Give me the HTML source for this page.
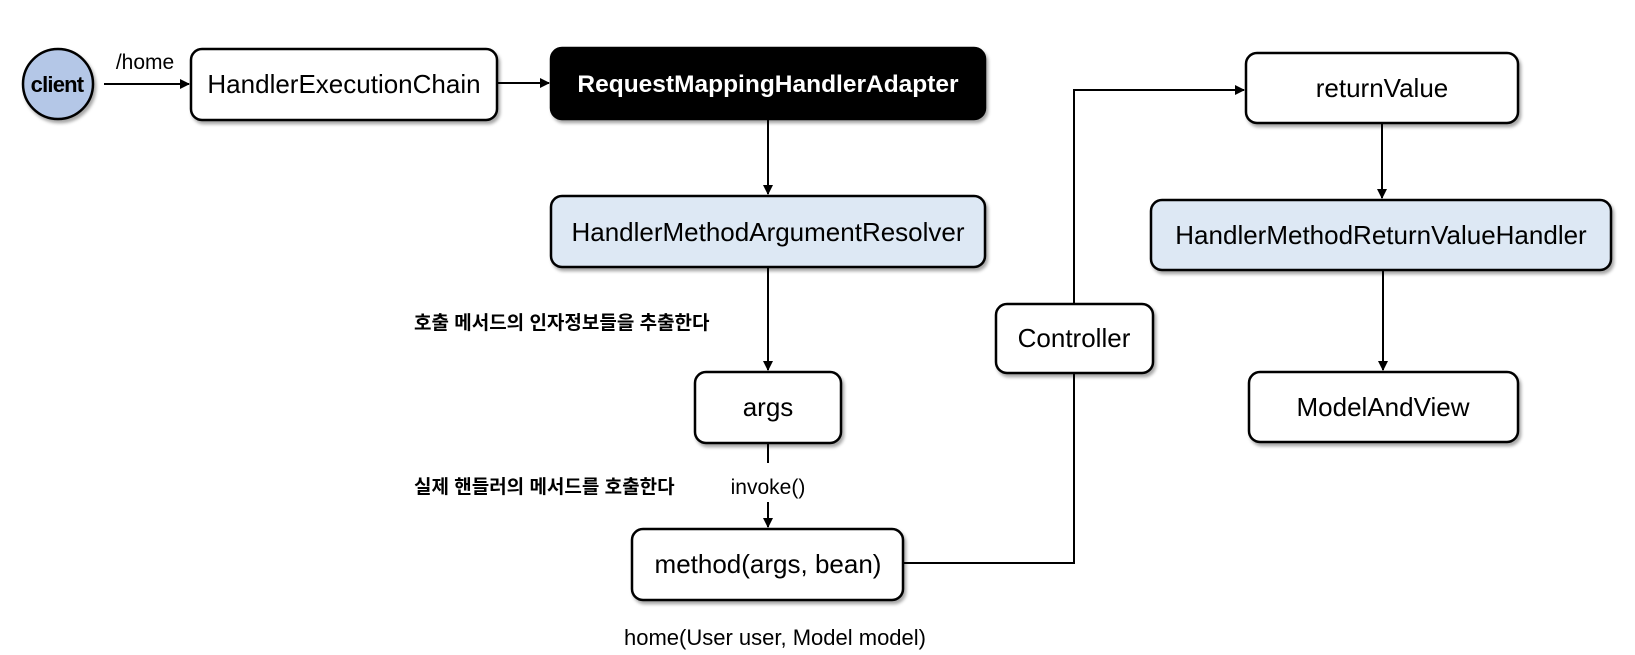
<!DOCTYPE html>
<html><head><meta charset="utf-8"><style>
html,body{margin:0;padding:0;background:#fff;}
svg{display:block;}
text{font-family:"Liberation Sans","Noto Sans CJK KR",sans-serif;}
</style></head><body>
<svg width="1635" height="655" viewBox="0 0 1635 655" xmlns="http://www.w3.org/2000/svg">
<defs>
<marker id="a" markerWidth="10" markerHeight="10" refX="9" refY="5" orient="auto" markerUnits="userSpaceOnUse"><path d="M0,0 L10,5 L0,10 z" fill="#000"/></marker>
<filter id="s" x="-10%" y="-10%" width="130%" height="140%"><feDropShadow dx="2" dy="3" stdDeviation="1.5" flood-color="#000" flood-opacity="0.35"/></filter>
</defs>
<g stroke="#000" stroke-width="2" fill="none">
<line x1="104" y1="84" x2="189" y2="84" marker-end="url(#a)"/>
<line x1="497" y1="83" x2="549" y2="83" marker-end="url(#a)"/>
<line x1="768" y1="119" x2="768" y2="194" marker-end="url(#a)"/>
<line x1="768" y1="267" x2="768" y2="370" marker-end="url(#a)"/>
<line x1="768" y1="443" x2="768" y2="463"/>
<line x1="768" y1="502" x2="768" y2="527" marker-end="url(#a)"/>
<polyline points="903,563 1074,563 1074,90 1244,90" marker-end="url(#a)"/>
<line x1="1382" y1="123" x2="1382" y2="198" marker-end="url(#a)"/>
<line x1="1383" y1="270" x2="1383" y2="370" marker-end="url(#a)"/>
</g>
<g stroke="#000" stroke-width="2.5" filter="url(#s)">
<ellipse cx="58" cy="84" rx="35" ry="35" fill="#b4c7e7"/>
<rect x="191" y="49" width="306" height="71" rx="11" fill="#fff"/>
<rect x="551" y="48" width="434" height="71" rx="11" fill="#000"/>
<rect x="551" y="196" width="434" height="71" rx="11" fill="#dde8f4"/>
<rect x="695" y="372" width="146" height="71" rx="11" fill="#fff"/>
<rect x="632" y="529" width="271" height="71" rx="11" fill="#fff"/>
<rect x="996" y="304" width="157" height="69" rx="11" fill="#fff"/>
<rect x="1246" y="53" width="272" height="70" rx="11" fill="#fff"/>
<rect x="1151" y="200" width="460" height="70" rx="11" fill="#dde8f4"/>
<rect x="1249" y="372" width="269" height="70" rx="11" fill="#fff"/>
</g>
<g font-size="26" text-anchor="middle" fill="#000">
<text x="57" y="92" font-weight="bold" font-size="22" letter-spacing="-0.8">client</text>
<text x="145" y="69" font-size="21">/home</text>
<text x="344" y="93">HandlerExecutionChain</text>
<text x="768" y="92" fill="#fff" font-weight="bold" font-size="24.5">RequestMappingHandlerAdapter</text>
<text x="768" y="241">HandlerMethodArgumentResolver</text>
<text x="768" y="416">args</text>
<text x="768" y="494" font-size="21">invoke()</text>
<text x="768" y="573">method(args, bean)</text>
<text x="775" y="645" font-size="22">home(User user, Model model)</text>
<text x="1074" y="347">Controller</text>
<text x="1382" y="97">returnValue</text>
<text x="1381" y="244">HandlerMethodReturnValueHandler</text>
<text x="1383" y="416">ModelAndView</text>
<text x="414" y="329" font-size="19" font-weight="bold" text-anchor="start">호출 메서드의 인자정보들을 추출한다</text>
<text x="414" y="493" font-size="19" font-weight="bold" text-anchor="start">실제 핸들러의 메서드를 호출한다</text>
</g>
</svg>
</body></html>
